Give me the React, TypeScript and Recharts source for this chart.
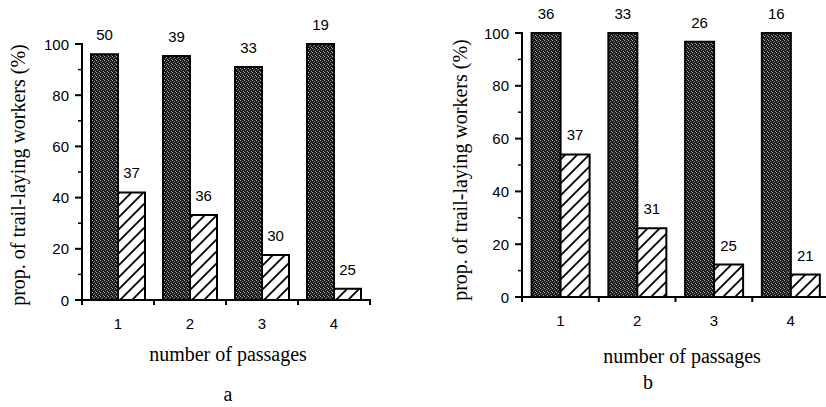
import React from "react";
import { Bar, BarChart, LabelList, XAxis, YAxis } from "recharts";

const passages = ["1", "2", "3", "4"];
const yTicks = [0, 10, 20, 30, 40, 50, 60, 70, 80, 90, 100];

// panel a
const darkA = [96, 95.3, 91, 100];
const hatchA = [42, 33.2, 17.6, 4.4];
const nDarkA = [50, 39, 33, 19];
const nHatchA = [37, 36, 30, 25];

// panel b
const darkB = [100, 100, 96.7, 100];
const hatchB = [54, 26, 12.3, 8.5];
const nDarkB = [36, 33, 26, 16];
const nHatchB = [37, 31, 25, 21];

const yTitle = "prop. of trail-laying workers (%)";
const xTitle = "number of passages";

const SERIF = "Liberation Serif, Times New Roman, serif";
const SANS = "Liberation Sans, Arial, sans-serif";

function buildRows(dark: number[], hatch: number[], nDark: number[], nHatch: number[]) {
  return passages.map((p, i) => ({
    passage: p,
    dark: dark[i],
    hatch: hatch[i],
    nDark: nDark[i],
    nHatch: nHatch[i],
  }));
}

function YTick(props: any) {
  const { x, y, payload } = props;
  if (payload.value % 20 !== 0) return <g />;
  return (
    <text x={x - 13} y={y} textAnchor="end" dominantBaseline="central" fontSize={15} fontFamily={SANS} fill="#000">
      {payload.value}
    </text>
  );
}

function XTick(props: any) {
  const { x, y, payload } = props;
  return (
    <text x={x} y={y + 23} textAnchor="middle" dominantBaseline="central" fontSize={15} fontFamily={SANS} fill="#000">
      {payload.value}
    </text>
  );
}

interface PanelProps {
  id: string;
  left: number;
  width: number;
  top: number;
  yAxisWidth: number;
  plotBottom: number;
  rightMargin: number;
  rows: ReturnType<typeof buildRows>;
  yTitlePos: [number, number];
  xTitlePos: [number, number];
  letterPos: [number, number];
  letter: string;
}

function Panel(p: PanelProps) {
  const height = 407;
  const plotLeft = p.yAxisWidth;
  const plotRight = p.width - p.rightMargin;
  const band = (plotRight - plotLeft) / passages.length;
  const yPos = (v: number) => p.plotBottom - (v / 100) * (p.plotBottom - p.top);
  return (
    <div style={{ position: "absolute", left: p.left, top: 0, width: p.width, height }}>
      <BarChart
        width={p.width}
        height={height}
        data={p.rows}
        margin={{ top: p.top, right: p.rightMargin, left: 0, bottom: 0 }}
        barCategoryGap="12.5%"
        barGap={0}
      >
        <defs>
          <pattern id={`stipple-${p.id}`} width="4" height="4" patternUnits="userSpaceOnUse">
            <rect width="4" height="4" fill="#181818" />
            <rect x="0" y="0" width="1" height="1" fill="#b4b4b4" />
            <rect x="2" y="1" width="1" height="1" fill="#8c8c8c" />
            <rect x="1" y="2" width="1" height="1" fill="#6e6e6e" />
            <rect x="3" y="3" width="1" height="1" fill="#a0a0a0" />
          </pattern>
          <pattern id={`hatch-${p.id}`} width="12" height="12" patternUnits="userSpaceOnUse">
            <rect width="12" height="12" fill="#fff" />
            <path d="M0,12 L12,0 M-3,3 L3,-3 M9,15 L15,9" stroke="#000" strokeWidth="1.8" />
          </pattern>
        </defs>
        <XAxis
          dataKey="passage"
          height={height - p.plotBottom}
          axisLine={{ stroke: "#000", strokeWidth: 2 }}
          tickLine={false}
          tickSize={0}
          tickMargin={0}
          interval={0}
          tick={<XTick />}
        />
        <YAxis
          width={p.yAxisWidth}
          domain={[0, 100]}
          ticks={yTicks}
          interval={0}
          axisLine={{ stroke: "#000", strokeWidth: 2 }}
          tickLine={false}
          tickSize={0}
          tickMargin={0}
          tick={<YTick />}
        />
        <Bar dataKey="dark" fill={`url(#stipple-${p.id})`} stroke="#000" strokeWidth={2} isAnimationActive={false}>
          <LabelList dataKey="nDark" position="top" offset={14} fill="#000" fontSize={15} fontFamily={SANS} />
        </Bar>
        <Bar dataKey="hatch" fill={`url(#hatch-${p.id})`} stroke="#000" strokeWidth={2} isAnimationActive={false}>
          <LabelList dataKey="nHatch" position="top" offset={14} fill="#000" fontSize={15} fontFamily={SANS} />
        </Bar>
      </BarChart>
      <svg
        width={p.width}
        height={height}
        style={{ position: "absolute", left: 0, top: 0, pointerEvents: "none" }}
      >
        {/* axis frame and tick marks */}
        <rect x={plotLeft - 1} y={p.top - 1} width={2} height={p.plotBottom - p.top + 2} fill="#000" />
        <rect x={plotLeft - 1} y={p.plotBottom - 1} width={plotRight - plotLeft + 2} height={2} fill="#000" />
        {yTicks.map((v) => {
          const major = v % 20 === 0;
          const len = major ? 7 : 4;
          const th = major ? 2 : 1.5;
          return <rect key={v} x={plotLeft - len} y={yPos(v) - th / 2} width={len} height={th} fill="#000" />;
        })}
        {[0, 1, 2, 3, 4].map((i) => (
          <rect key={i} x={plotLeft + i * band - 1} y={p.plotBottom} width={2} height={5} fill="#000" />
        ))}
        <text
          x={p.yTitlePos[0]}
          y={p.yTitlePos[1]}
          transform={`rotate(-90 ${p.yTitlePos[0]} ${p.yTitlePos[1]})`}
          textAnchor="middle"
          fontSize={20}
          fontFamily={SERIF}
          fill="#000"
        >
          {yTitle}
        </text>
        <text x={p.xTitlePos[0]} y={p.xTitlePos[1]} textAnchor="middle" fontSize={20} fontFamily={SERIF} fill="#000">
          {xTitle}
        </text>
        <text x={p.letterPos[0]} y={p.letterPos[1]} textAnchor="middle" fontSize={20} fontFamily={SERIF} fill="#000">
          {p.letter}
        </text>
      </svg>
    </div>
  );
}

export default function App() {
  return (
    <div
      style={{
        position: "absolute",
        left: 0,
        top: 0,
        width: 826,
        height: 407,
        overflow: "hidden",
        background: "#fff",
      }}
    >
      <Panel
        id="a"
        left={0}
        width={420}
        top={44}
        yAxisWidth={82}
        plotBottom={300}
        rightMargin={50}
        rows={buildRows(darkA, hatchA, nDarkA, nHatchA)}
        yTitlePos={[25, 175]}
        xTitlePos={[228, 361]}
        letterPos={[228, 401]}
        letter="a"
      />
      <Panel
        id="b"
        left={420}
        width={409}
        top={33}
        yAxisWidth={102}
        plotBottom={297}
        rightMargin={0}
        rows={buildRows(darkB, hatchB, nDarkB, nHatchB)}
        yTitlePos={[47, 170]}
        xTitlePos={[262, 363]}
        letterPos={[228, 389]}
        letter="b"
      />
    </div>
  );
}
